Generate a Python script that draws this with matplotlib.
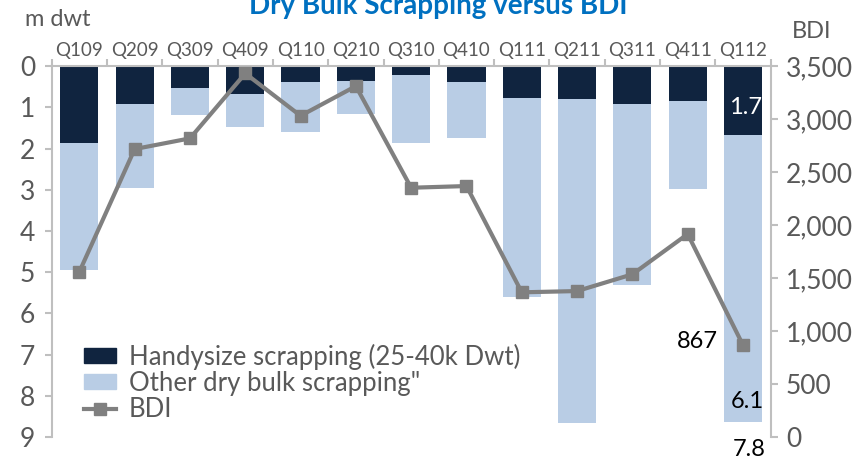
import numpy as np
import matplotlib.pyplot as plt
from matplotlib.lines import Line2D
from matplotlib.patches import Patch

plt.rcParams['font.family'] = ['Lato', 'DejaVu Sans']

quarters = ['Q109', 'Q209', 'Q309', 'Q409', 'Q110', 'Q210', 'Q310',
            'Q410', 'Q111', 'Q211', 'Q311', 'Q411', 'Q112']
handysize = [1.86, 0.93, 0.54, 0.68, 0.38, 0.36, 0.22,
             0.38, 0.78, 0.80, 0.92, 0.84, 1.68]
other_bulk = [3.09, 2.02, 0.65, 0.81, 1.23, 0.81, 1.64,
              1.36, 4.82, 7.85, 4.40, 2.15, 6.95]
bdi = [1559, 2717, 2818, 3431, 3031, 3311, 2352,
       2368, 1365, 1377, 1535, 1915, 867]

NAVY = '#10243f'
LIGHT = '#b9cde5'
GREY_LINE = '#808080'
TXT = '#595959'
SPINE = '#bfbfbf'

fig = plt.figure(figsize=(8.62, 4.59), dpi=100)
ax = fig.add_axes([0.060, 0.048, 0.834, 0.808])
x = np.arange(len(quarters))
w = 0.69

ax.bar(x, handysize, w, color=NAVY, zorder=2)
ax.bar(x, other_bulk, w, bottom=handysize, color=LIGHT, zorder=2)
ax.set_xlim(-0.5, len(quarters) - 0.5)
ax.set_ylim(9, 0)
ax.set_yticks(range(10))
ax.tick_params(axis='y', labelsize=19, colors=SPINE, labelcolor=TXT, length=5, width=1.5, pad=7)

ax.xaxis.tick_top()
ax.set_xticks(x)
ax.set_xticklabels(quarters)
ax.set_xticks(np.arange(-0.5, len(quarters)), minor=True)
ax.tick_params(axis='x', which='major', length=0, labelsize=13.5, labelcolor=TXT, pad=5)
ax.tick_params(axis='x', which='minor', length=5, width=1.5, colors=SPINE, top=True, bottom=False)

for s in ['bottom', 'right']:
    ax.spines[s].set_visible(False)
for s in ['left', 'top']:
    ax.spines[s].set_color(SPINE)
    ax.spines[s].set_linewidth(1.5)

ax2 = ax.twinx()
ax2.plot(x, bdi, color=GREY_LINE, lw=3, marker='s', ms=9, zorder=3)
ax2.set_ylim(0, 3500)
ax2.set_yticks(range(0, 3501, 500))
ax2.set_yticklabels([f'{v:,}' for v in range(0, 3501, 500)])
ax2.tick_params(axis='y', labelsize=19, colors=SPINE, labelcolor=TXT, length=5, width=1.5, pad=6)
for s in ['bottom', 'left', 'top']:
    ax2.spines[s].set_visible(False)
ax2.spines['right'].set_color(SPINE)
ax2.spines['right'].set_linewidth(1.5)

# value labels
last = len(quarters) - 1
ax.text(last + 0.05, 1.0, '1.7', color='white', fontsize=17,
        ha='center', va='center', zorder=4)
ax.text(last + 0.08, 8.15, '6.1', color='black', fontsize=17, ha='center', va='center', zorder=4)
ax.text(last + 0.12, 9.3, '7.8', color='black', fontsize=17, ha='center', va='center',
        clip_on=False, zorder=4)
ax2.text(last - 0.45, bdi[-1] + 30, f'{bdi[-1]}', color='black', fontsize=17,
         ha='right', va='center', zorder=4)

handles = [Patch(color=NAVY), Patch(color=LIGHT),
           Line2D([], [], color=GREY_LINE, lw=3, marker='s', ms=8)]
labels = ['Handysize scrapping (25-40k Dwt)', 'Other dry bulk scrapping"', 'BDI']
leg = ax2.legend(handles, labels, loc='upper left', bbox_to_anchor=(0.03, 0.28),
                 frameon=False, fontsize=18.5, handlelength=1.25, handleheight=0.5,
                 labelspacing=0.05, handletextpad=0.5, borderaxespad=0)
for t in leg.get_texts():
    t.set_color(TXT)

fig.text(0.067, 0.958, 'm dwt', fontsize=17, color=TXT, ha='center', va='center')
fig.text(0.942, 0.932, 'BDI', fontsize=17, color=TXT, ha='center', va='center')
fig.text(0.508, 0.988, 'Dry Bulk Scrapping versus BDI', fontsize=20, fontweight='bold',
         color='#0070c0', ha='center', va='center')

fig.savefig('out.png', dpi=100)
